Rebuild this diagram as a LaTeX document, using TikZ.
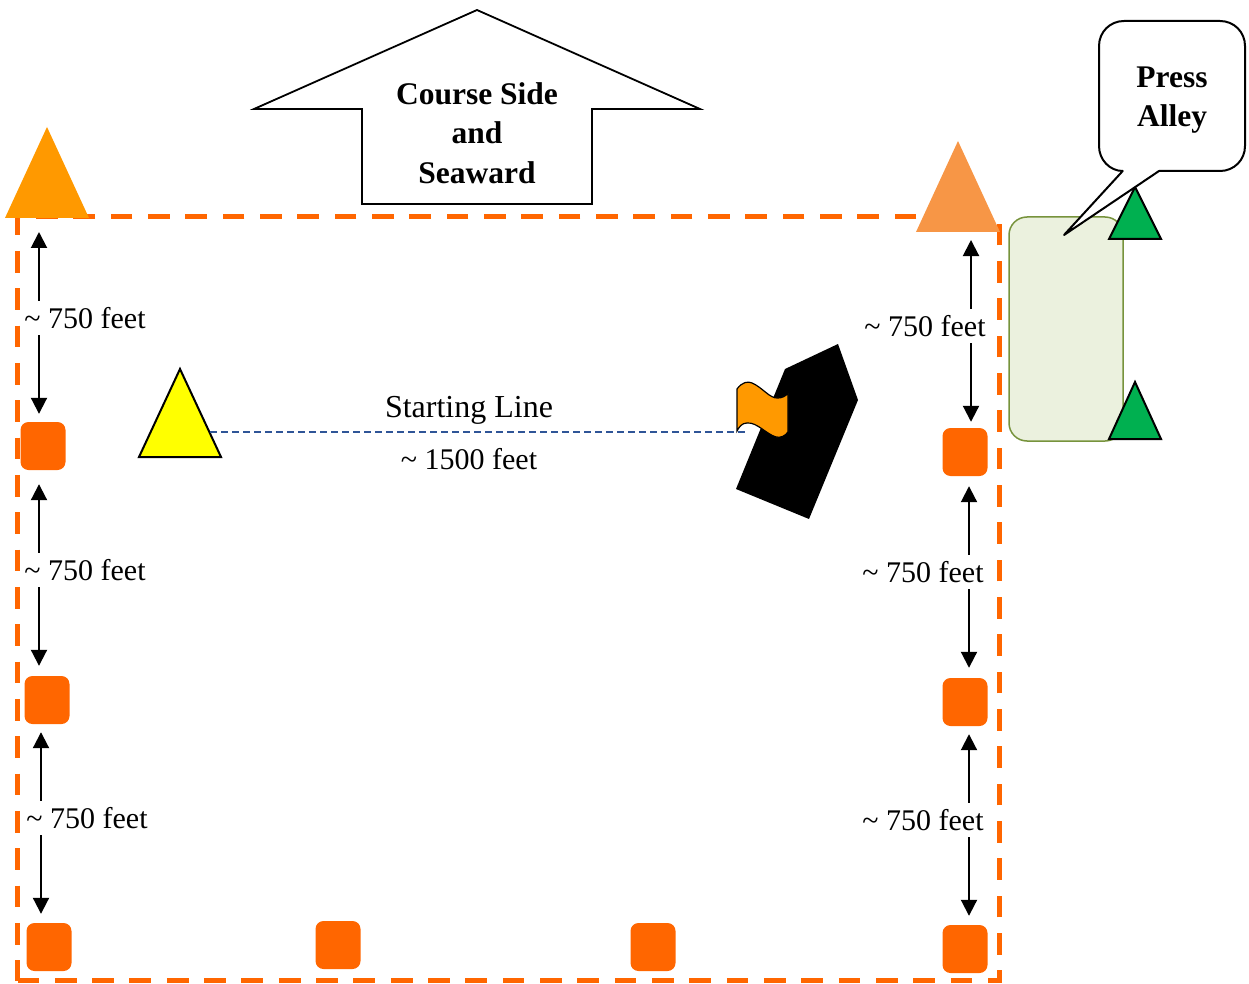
\documentclass[tikz,border=0pt]{standalone}
\usepackage{fontspec}
\setmainfont{Liberation Serif}
\usetikzlibrary{positioning, shapes.geometric, arrows.meta}
\definecolor{course_orange}{HTML}{FF6600}
\definecolor{buoy_orange}{HTML}{FF9900}
\definecolor{buoy_peach}{HTML}{F79646}
\definecolor{buoy_green}{HTML}{00B050}
\definecolor{buoy_yellow}{HTML}{FFFF00}
\definecolor{alley_fill}{HTML}{EBF1DE}
\definecolor{alley_line}{HTML}{77933C}
\definecolor{line_blue}{HTML}{2F5597}

\begin{document}
\begin{tikzpicture}[
        x=1pt, y=-1pt,
        buoy_node/.style={isosceles triangle, isosceles triangle apex angle=50, isosceles triangle stretches, shape border rotate=90, inner sep=0pt, outer sep=0pt, anchor=lower side},
        mark_node/.style={rectangle, rounded corners=8pt, fill=course_orange, minimum width=45pt, minimum height=48pt, inner sep=0pt},
        dim_arrow/.style={{Triangle[width=16pt,length=16pt]}-{Triangle[width=16pt,length=16pt]}, line width=2pt, black},
        dim_label/.style={fill=white, inner sep=0pt, inner ysep=6pt, font=\fontsize{30}{34}\selectfont},
        plain_label/.style={inner sep=0pt, font=\fontsize{32}{34}\selectfont},
        bold_label/.style={inner sep=0pt, align=center, font=\fontsize{31.5}{39.5}\selectfont\bfseries}
    ]
        \useasboundingbox (0,0) rectangle (1249,984);

        % Course
        \draw [course_orange, line width=5.3pt, dash pattern=on 21.7pt off 15.63pt] (17.5,980.5) -- (999.5,980.5) -- (999.5,216.5) -- (17.5,216.5) -- cycle;

        % Press alley
        \node (alley) [draw=alley_line, fill=alley_fill, line width=1.5pt, rectangle, rounded corners=18pt, minimum width=114pt, minimum height=224pt, inner sep=0pt] at (1066,329) {};

        % Buoys
        \node (buoy_nw) [buoy_node, fill=buoy_orange, minimum width=84pt, minimum height=91pt] at (47,218) {};
        \node (buoy_ne) [buoy_node, fill=buoy_peach, minimum width=84pt, minimum height=91pt] at (958,232) {};
        \node (buoy_start) [buoy_node, draw=black, fill=buoy_yellow, line width=2pt, minimum width=82pt, minimum height=88pt] at (180,457) {};
        \node (buoy_press_a) [buoy_node, draw=black, fill=buoy_green, line width=2pt, minimum width=52pt, minimum height=52pt] at (1135,239) {};
        \node (buoy_press_b) [buoy_node, draw=black, fill=buoy_green, line width=2pt, minimum width=52pt, minimum height=57pt] at (1135,439) {};

        % Marks
        \node (mark_w1) [mark_node] at (43,446) {};
        \node (mark_w2) [mark_node] at (47,700) {};
        \node (mark_w3) [mark_node] at (49,947) {};
        \node (mark_s1) [mark_node] at (338,945) {};
        \node (mark_s2) [mark_node] at (653,947) {};
        \node (mark_e3) [mark_node] at (965,949) {};
        \node (mark_e2) [mark_node] at (965,702) {};
        \node (mark_e1) [mark_node] at (965,452) {};

        % Boat and flag
        \fill [black] (838,344) -- (858,400) -- (809,519) -- (736,489) -- (785,369) -- cycle;
        \coordinate (flag_end) at (745,432);
        \draw [line_blue, line width=1.3pt, dash pattern=on 7pt off 4pt] ([shift={(30,-25)}]buoy_start.lower side) -- (flag_end);
        \draw [black, line width=1.2pt, fill=buoy_orange] (737,431) -- (737,389) .. controls (742,382) and (748,381) .. (752,383) .. controls (762,387) and (770,399) .. (778,398) .. controls (782,398) and (786,396) .. (788,393) -- (788,432) .. controls (785,436) and (781,438) .. (776,437) .. controls (766,434) and (757,422) .. (747,423) .. controls (742,423) and (739,427) .. (737,431) -- cycle;

        % Arrows
        \draw [dim_arrow] ([shift={(-8,14)}]buoy_nw.lower side) -- ([shift={(-4,-8)}]mark_w1.north);
        \draw [dim_arrow] ([shift={(-4,14)}]mark_w1.south) -- ([shift={(-8,-10)}]mark_w2.north);
        \draw [dim_arrow] ([shift={(-6,8)}]mark_w2.south) -- ([shift={(-8,-9)}]mark_w3.north);
        \draw [dim_arrow] ([shift={(13,8)}]buoy_ne.lower side) -- ([shift={(6,-6)}]mark_e1.north);
        \draw [dim_arrow] ([shift={(4,10)}]mark_e1.south) -- ([shift={(4,-10)}]mark_e2.north);
        \draw [dim_arrow] ([shift={(4,8)}]mark_e2.south) -- ([shift={(4,-9)}]mark_e3.north);

        % Labels
        \node (dist_w1) [dim_label] at (85,318) {\textasciitilde{} 750 feet};
        \node (dist_w2) [dim_label] at (85,570) {\textasciitilde{} 750 feet};
        \node (dist_w3) [dim_label] at (87,818) {\textasciitilde{} 750 feet};
        \node (dist_e1) [dim_label] at (925,326) {\textasciitilde{} 750 feet};
        \node (dist_e2) [dim_label] at (923,572) {\textasciitilde{} 750 feet};
        \node (dist_e3) [dim_label] at (923,820) {\textasciitilde{} 750 feet};
        \node (start_label) [plain_label] at (469,410) {Starting Line};
        \node (start_dist) [dim_label, fill=none] at (469,459) {\textasciitilde{} 1500 feet};

        % Course side arrow
        \draw [black, line width=1.8pt, fill=white] (477,10) -- (700,109) -- (592,109) -- (592,204) -- (362,204) -- (362,109) -- (254,109) -- cycle;
        \node (course_side) [bold_label] at (477,133) {Course Side\\and\\Seaward};

        % Callout
        \draw [black, line width=2pt, line join=round, fill=white] (1122.7,171) -- (1064,235) -- (1159,171) -- (1220,171) .. controls (1234,171) and (1245,160) .. (1245,146) -- (1245,46) .. controls (1245,32) and (1234,21) .. (1220,21) -- (1124,21) .. controls (1110,21) and (1099,32) .. (1099,46) -- (1099,146) .. controls (1099,160) and (1110,171) .. (1122.7,171) -- cycle;
        \node (press_alley) [bold_label] at (1172,100) {Press\\Alley};
    \end{tikzpicture}
\end{document}
